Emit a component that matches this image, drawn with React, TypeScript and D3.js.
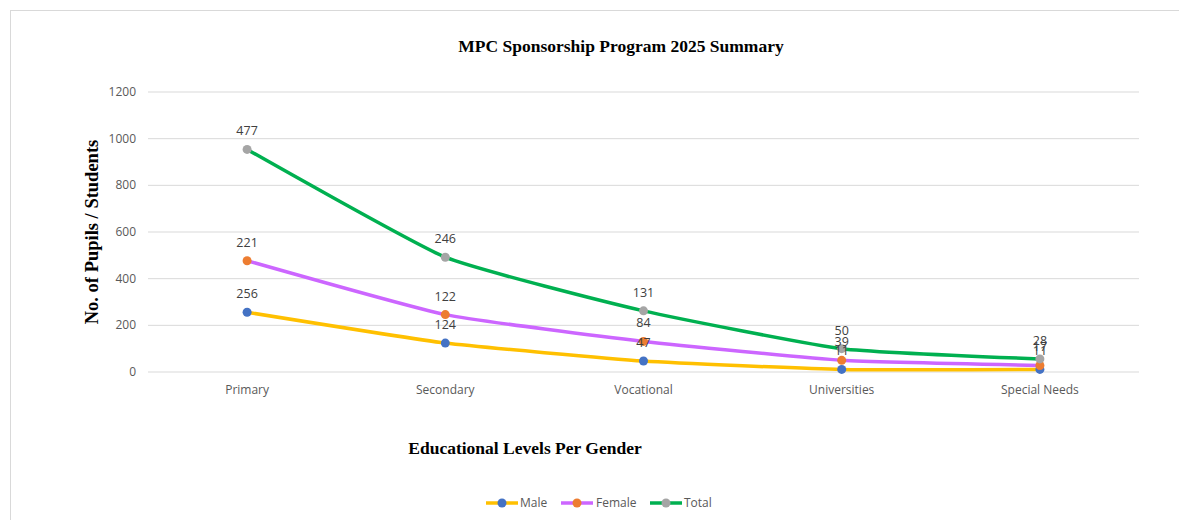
import React from "react";
import * as d3 from "d3";

const categories = ["Primary", "Secondary", "Vocational", "Universities", "Special Needs"];
const maleValues = [256, 124, 47, 11, 11];
const femaleValues = [221, 122, 84, 39, 17];
const totalValues = [477, 246, 131, 50, 28];
const yTicks = [0, 200, 400, 600, 800, 1000, 1200];

const seriesNames = ["Male", "Female", "Total"];
const lineColors = ["#FFC000", "#CC66FF", "#00B050"];
const markerColors = ["#4472C4", "#ED7D31", "#A5A5A5"];

export default function App() {
  const W = 1179, H = 520;
  const left = 148, right = 1139, top = 92, bottom = 372;
  const x = d3.scalePoint<string>().domain(categories).range([left, right]).padding(0.5);
  const y = d3.scaleLinear().domain([0, 1200]).range([bottom, top]);

  const raw = [maleValues, femaleValues, totalValues];
  // stacked line chart: cumulative values
  const stacked: number[][] = [];
  raw.forEach((vals, i) => {
    stacked.push(vals.map((v, j) => v + (i > 0 ? stacked[i - 1][j] : 0)));
  });

  const line = d3
    .line<number>()
    .x((_, j) => x(categories[j])!)
    .y((d) => y(d))
    .curve(d3.curveCardinal.tension(0.55));

  const serif = "'Liberation Serif', 'DejaVu Serif', serif";
  const sans = "'Open Sans', 'Noto Sans', sans-serif";

  const legendItems = [
    { lx: 486, tx: 520 },
    { lx: 561, tx: 596 },
    { lx: 650, tx: 684 },
  ];

  return (
    <svg
      width={W}
      height={H}
      style={{ position: "absolute", left: 0, top: 0, background: "#fff" }}
    >
      <rect x={10.5} y={10.5} width={1200} height={600} fill="#fff" stroke="#d9d9d9" strokeWidth={1} />
      <text x={621} y={52} textAnchor="middle" fontFamily={serif} fontWeight="bold" fontSize={17.5} fill="#000">
        MPC Sponsorship Program 2025 Summary
      </text>
      {yTicks.map((t) => (
        <g key={t}>
          <line x1={left} x2={right} y1={y(t)} y2={y(t)} stroke="#d9d9d9" strokeWidth={1} />
          <text x={136} y={y(t) + 4} textAnchor="end" fontFamily={sans} fontSize={12} fill="#595959">
            {t}
          </text>
        </g>
      ))}
      {categories.map((c) => (
        <text key={c} x={x(c)!} y={394} textAnchor="middle" fontFamily={sans} fontSize={12} fill="#595959">
          {c}
        </text>
      ))}
      <text
        transform={`translate(98, 232) rotate(-90)`}
        textAnchor="middle"
        fontFamily={serif}
        fontWeight="bold"
        fontSize={18.5}
        fill="#000"
      >
        No. of Pupils / Students
      </text>
      <text x={525} y={454} textAnchor="middle" fontFamily={serif} fontWeight="bold" fontSize={17.5} fill="#000">
        Educational Levels Per Gender
      </text>
      {stacked.map((vals, i) => (
        <path key={"l" + i} d={line(vals)!} fill="none" stroke={lineColors[i]} strokeWidth={3.5} strokeLinecap="round" />
      ))}
      {stacked.map((vals, i) =>
        vals.map((v, j) => (
          <circle key={"m" + i + j} cx={x(categories[j])!} cy={y(v)} r={4.5} fill={markerColors[i]} />
        ))
      )}
      {stacked.map((vals, i) =>
        vals.map((v, j) => (
          <text
            key={"t" + i + j}
            x={x(categories[j])!}
            y={y(v) - 14}
            textAnchor="middle"
            fontFamily={sans}
            fontSize={12.5}
            fill="#404040"
          >
            {raw[i][j]}
          </text>
        ))
      )}
      {seriesNames.map((s, i) => (
        <g key={s}>
          <line x1={legendItems[i].lx} x2={legendItems[i].lx + 32} y1={503} y2={503} stroke={lineColors[i]} strokeWidth={3.5} />
          <circle cx={legendItems[i].lx + 16} cy={503} r={4.5} fill={markerColors[i]} />
          <text x={legendItems[i].tx} y={507} fontFamily={sans} fontSize={12} fill="#595959">
            {s}
          </text>
        </g>
      ))}
    </svg>
  );
}
